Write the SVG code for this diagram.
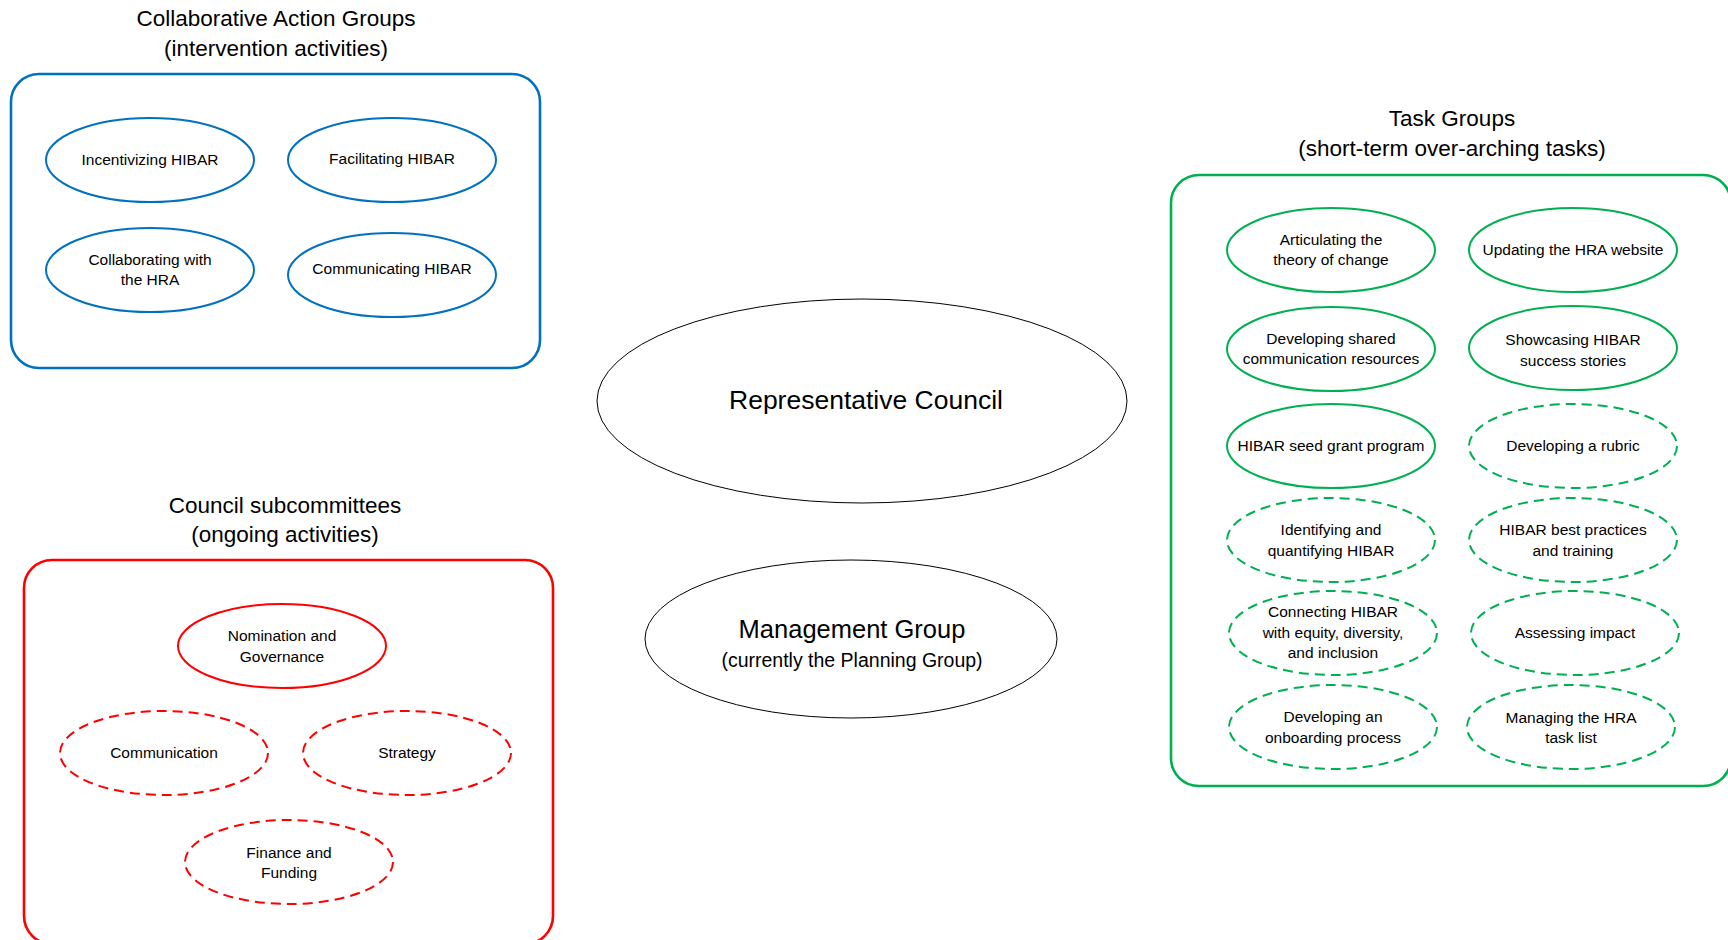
<svg xmlns="http://www.w3.org/2000/svg" width="1728" height="940" viewBox="0 0 1728 940">
<style>
text{font-family:"Liberation Sans",Arial,sans-serif;fill:#000;text-anchor:middle}
.title{font-size:22.5px}
.lbl{font-size:15.5px}
.blue{fill:none;stroke:#0070C0;stroke-width:2}
.red{fill:none;stroke:#FF0000;stroke-width:2}
.green{fill:none;stroke:#00B050;stroke-width:2}
.dash{stroke-dasharray:10 6}
.box{stroke-width:2.6}
.core{fill:#fff;stroke:#000;stroke-width:1}
</style>
<rect width="1728" height="940" fill="#fff"/>

<g id="cag">
<text class="title" x="276" y="26">Collaborative Action Groups</text>
<text class="title" x="276" y="56">(intervention activities)</text>
<rect class="blue box" x="11" y="74" width="529" height="294" rx="28"/>
</g>
<g id="n-incentivizing"><ellipse class="blue" cx="150" cy="160" rx="104" ry="42"/><text class="lbl" x="150" y="165">Incentivizing HIBAR</text></g>
<g id="n-facilitating"><ellipse class="blue" cx="392" cy="160" rx="104" ry="42"/><text class="lbl" x="392" y="164">Facilitating HIBAR</text></g>
<g id="n-collaborating"><ellipse class="blue" cx="150" cy="270" rx="104" ry="42"/><text class="lbl" x="150" y="265">Collaborating with</text><text class="lbl" x="150" y="285">the HRA</text></g>
<g id="n-communicating"><ellipse class="blue" cx="392" cy="275" rx="104" ry="42"/><text class="lbl" x="392" y="274">Communicating HIBAR</text></g>

<g id="n-rep-council"><ellipse class="core" cx="862" cy="401" rx="265" ry="102"/><text x="866" y="409" style="font-size:26.5px">Representative Council</text></g>
<g id="n-management"><ellipse class="core" cx="851" cy="639" rx="206" ry="79"/><text x="852" y="638" style="font-size:25.5px">Management Group</text><text x="852" y="667" style="font-size:19.5px">(currently the Planning Group)</text></g>

<g id="subcommittees">
<text class="title" x="285" y="513">Council subcommittees</text>
<text class="title" x="285" y="542">(ongoing activities)</text>
<rect class="red box" x="24" y="560" width="529" height="384" rx="28"/>
</g>
<g id="n-nomination"><ellipse class="red" cx="282" cy="646" rx="104" ry="42"/><text class="lbl" x="282" y="641">Nomination and</text><text class="lbl" x="282" y="662">Governance</text></g>
<g id="n-communication"><ellipse class="red dash" cx="164" cy="753" rx="104" ry="42"/><text class="lbl" x="164" y="758">Communication</text></g>
<g id="n-strategy"><ellipse class="red dash" cx="407" cy="753" rx="104" ry="42"/><text class="lbl" x="407" y="758">Strategy</text></g>
<g id="n-finance"><ellipse class="red dash" cx="289" cy="862" rx="104" ry="42"/><text class="lbl" x="289" y="858">Finance and</text><text class="lbl" x="289" y="878">Funding</text></g>

<g id="taskgroups">
<text class="title" x="1452" y="126">Task Groups</text>
<text class="title" x="1452" y="156">(short-term over-arching tasks)</text>
<rect class="green box" x="1171" y="175" width="560" height="611" rx="28"/>
</g>
<g id="n-articulating"><ellipse class="green" cx="1331" cy="250" rx="104" ry="42"/><text class="lbl" x="1331" y="245">Articulating the</text><text class="lbl" x="1331" y="265">theory of change</text></g>
<g id="n-updating"><ellipse class="green" cx="1573" cy="250" rx="104" ry="42"/><text class="lbl" x="1573" y="255">Updating the HRA website</text></g>
<g id="n-devshared"><ellipse class="green" cx="1331" cy="349" rx="104" ry="42"/><text class="lbl" x="1331" y="344">Developing shared</text><text class="lbl" x="1331" y="364">communication resources</text></g>
<g id="n-showcasing"><ellipse class="green" cx="1573" cy="348" rx="104" ry="42"/><text class="lbl" x="1573" y="345">Showcasing HIBAR</text><text class="lbl" x="1573" y="366">success stories</text></g>
<g id="n-seed"><ellipse class="green" cx="1331" cy="446" rx="104" ry="42"/><text class="lbl" x="1331" y="451">HIBAR seed grant program</text></g>
<g id="n-rubric"><ellipse class="green dash" cx="1573" cy="446" rx="104" ry="42"/><text class="lbl" x="1573" y="451">Developing a rubric</text></g>
<g id="n-identifying"><ellipse class="green dash" cx="1331" cy="540" rx="104" ry="42"/><text class="lbl" x="1331" y="535">Identifying and</text><text class="lbl" x="1331" y="556">quantifying HIBAR</text></g>
<g id="n-bestpractices"><ellipse class="green dash" cx="1573" cy="540" rx="104" ry="42"/><text class="lbl" x="1573" y="535">HIBAR best practices</text><text class="lbl" x="1573" y="556">and training</text></g>
<g id="n-connecting"><ellipse class="green dash" cx="1333" cy="633" rx="104" ry="42"/><text class="lbl" x="1333" y="617">Connecting HIBAR</text><text class="lbl" x="1333" y="638">with equity, diversity,</text><text class="lbl" x="1333" y="658">and inclusion</text></g>
<g id="n-assessing"><ellipse class="green dash" cx="1575" cy="633" rx="104" ry="42"/><text class="lbl" x="1575" y="638">Assessing impact</text></g>
<g id="n-onboarding"><ellipse class="green dash" cx="1333" cy="727" rx="104" ry="42"/><text class="lbl" x="1333" y="722">Developing an</text><text class="lbl" x="1333" y="743">onboarding process</text></g>
<g id="n-tasklist"><ellipse class="green dash" cx="1571" cy="727" rx="104" ry="42"/><text class="lbl" x="1571" y="723">Managing the HRA</text><text class="lbl" x="1571" y="743">task list</text></g>

<g id="connectors"></g>
</svg>
